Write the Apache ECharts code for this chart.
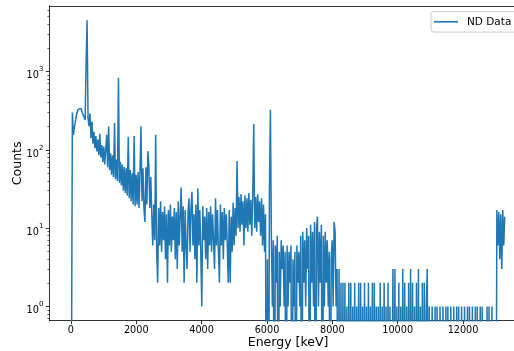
<!DOCTYPE html>
<html><head><meta charset="utf-8">
<script src="https://cdn.jsdelivr.net/npm/echarts@6/dist/echarts.min.js"></script>
<style>html,body{margin:0;padding:0;background:#fff}#c{width:514px;height:351px}</style>
</head><body><div id="c"></div>
<script>
// ---- data ----
const seriesName = 'ND Data';
const xAxisTitle = 'Energy [keV]';
const yAxisTitle = 'Counts';
const binWidthKeV = 30;           // energy of bin i = i * binWidthKeV
const counts = [
  0,0,300,155,190,225,270,305,330,345,335,325,300,285,260,240,1300,4500,250,200,
  290,140,230,120,170,105,150,95,135,85,160,80,115,70,110,65,100,155,60,200,
  55,90,48,85,45,220,42,75,40,830,38,70,35,65,30,60,28,58,26,145,
  24,55,22,50,20,150,19,48,20,52,18,55,200,22,58,18,12,60,20,96,
  65,18,45,15,6,20,7,155,5,2,18,6,22,5,16,7,19,4,15,2,
  17,6,20,5,14,7,18,4,16,3,22,6,15,33,5,19,2,17,6,3,
  16,24,5,18,29,6,15,4,20,2,32,6,17,5,1,19,7,14,4,18,
  3,16,6,19,5,15,7,3,24,6,17,5,2,20,6,16,4,18,7,15,
  6,2,17,2,14,5,21,6,18,8,72,10,25,9,27,11,22,6,26,10,
  24,9,28,11,23,8,26,214,10,25,9,27,12,22,8,24,6,20,5,15,
  0,4,0,30,325,8,1,7,0,6,2,8,0,5,1,7,3,6,1,5,
  0,6,1,5,2,6,0,4,1,5,0,6,2,5,1,8,0,9,2,7,
  1,10,3,8,0,11,2,9,1,12,0,10,14,1,9,2,11,0,8,1,
  9,2,7,1,5,0,4,7,1,12,9,1,3,0,3,0,2,0,2,0,
  2,0,1,0,2,0,2,0,1,0,2,0,1,0,2,0,2,0,1,0,
  2,0,1,0,2,0,1,0,2,0,2,0,1,0,1,0,2,0,1,0,
  2,0,1,0,2,0,1,0,0,3,0,3,0,1,0,2,0,1,0,3,
  0,2,0,1,0,2,0,3,0,2,0,1,0,2,0,3,0,1,0,2,
  0,2,0,1,3,0,1,1,0,1,1,0,1,0,1,1,0,1,1,0,
  1,1,0,1,0,1,1,0,1,1,0,1,1,0,1,0,1,1,0,1,
  1,0,1,1,0,1,0,1,1,0,1,1,0,1,0,1,1,0,1,0,
  1,0,0,0,0,1,0,1,0,0,1,0,0,0,0,17,6,16,4,15,
  3,17,6,14
];
const xTickValues = [0, 2000, 4000, 6000, 8000, 10000, 12000];
const yDecadeExponents = [0, 1, 2, 3];
const minorMultipliers = [2, 3, 4, 5, 6, 7, 8, 9];
const xLimits = [-658, 13948];
const yLimits = [0.6565, 6855];

// ---- build options ----
// log axis: non-positive counts are clipped to a tiny value (as matplotlib does)
const seriesData = counts.map((c, i) => [i * binWidthKeV, c > 0 ? c : 1e-3]);
const logMin = Math.log10(yLimits[0]), logMax = Math.log10(yLimits[1]);
const minorTickValues = [];
for (let e = -1; e <= 3; e++) {
  for (const m of minorMultipliers) {
    const v = e + Math.log10(m);
    if (v >= logMin && v <= logMax) minorTickValues.push(v);
  }
}
const FONT = 'DejaVu Sans';
const chart = echarts.init(document.getElementById('c'), null, {renderer: 'canvas'});
chart.setOption({
  animation: false,
  backgroundColor: '#ffffff',
  grid: {left: 49.4, top: 6, right: -12.7, bottom: 30.3, containLabel: false, outerBoundsMode: 'none'},
  legend: {
    show: true,
    data: [{name: seriesName, icon: 'rect'}],
    left: 431, top: 11.5,
    padding: [4, 6, 4, 3],
    itemWidth: 24, itemHeight: 1.6,
    backgroundColor: 'rgba(255,255,255,0.8)',
    borderColor: '#cccccc', borderWidth: 1, borderRadius: 3,
    itemStyle: {color: '#1f77b4', borderWidth: 0},
    textStyle: {fontFamily: FONT, fontSize: 10.5, color: '#000', padding: [0, 0, 0, 4], lineHeight: 12.6}
  },
  xAxis: [{
    type: 'value', min: xLimits[0], max: xLimits[1], position: 'bottom',
    axisLine: {show: true, onZero: false, lineStyle: {color: '#000', width: 0.8}},
    axisTick: {show: true, customValues: xTickValues, length: 3.5, lineStyle: {color: '#000', width: 0.8}},
    axisLabel: {customValues: xTickValues, formatter: v => String(v), fontFamily: FONT, fontSize: 9.7, color: '#000', margin: 5},
    splitLine: {show: false},
    name: xAxisTitle, nameLocation: 'middle', nameGap: 16, nameMoveOverlap: false,
    nameTextStyle: {fontFamily: FONT, fontSize: 12.5, color: '#000'}
  }, {
    type: 'value', min: xLimits[0], max: xLimits[1], position: 'top',
    axisLine: {show: true, onZero: false, lineStyle: {color: '#000', width: 0.8}},
    axisTick: {show: false}, axisLabel: {show: false}, splitLine: {show: false}
  }],
  yAxis: [{
    type: 'log', min: yLimits[0], max: yLimits[1], show: false,
    axisLine: {onZero: false}, splitLine: {show: false}
  }, {
    type: 'value', min: logMin, max: logMax, position: 'left',
    axisLine: {show: true, onZero: false, lineStyle: {color: '#000', width: 0.8}},
    axisTick: {show: true, customValues: yDecadeExponents, length: 3.5, lineStyle: {color: '#000', width: 0.8}},
    axisLabel: {
      customValues: yDecadeExponents, margin: 6, padding: [4, 0, 0, 0],
      formatter: v => '{b|10}{s|' + Math.round(v) + '}',
      rich: {
        b: {fontFamily: FONT, fontSize: 9.7, color: '#000', lineHeight: 15, verticalAlign: 'bottom'},
        s: {fontFamily: FONT, fontSize: 7, color: '#000', lineHeight: 7, verticalAlign: 'top'}
      }
    },
    splitLine: {show: false},
    name: yAxisTitle, nameLocation: 'middle', nameGap: 25, nameRotate: 90, nameMoveOverlap: false,
    nameTextStyle: {fontFamily: FONT, fontSize: 12.5, color: '#000'}
  }, {
    type: 'value', min: logMin, max: logMax, position: 'left',
    axisLine: {show: false, onZero: false},
    axisTick: {show: true, customValues: minorTickValues, length: 2, lineStyle: {color: '#000', width: 0.6}},
    axisLabel: {show: false}, splitLine: {show: false}
  }],
  series: [{
    name: seriesName, type: 'line', xAxisIndex: 0, yAxisIndex: 0,
    data: seriesData, symbol: 'none', showSymbol: false, clip: true,
    step: 'middle',
    lineStyle: {color: '#1f77b4', width: 1.5},
    itemStyle: {color: '#1f77b4'}
  }]
});
</script></body></html>
